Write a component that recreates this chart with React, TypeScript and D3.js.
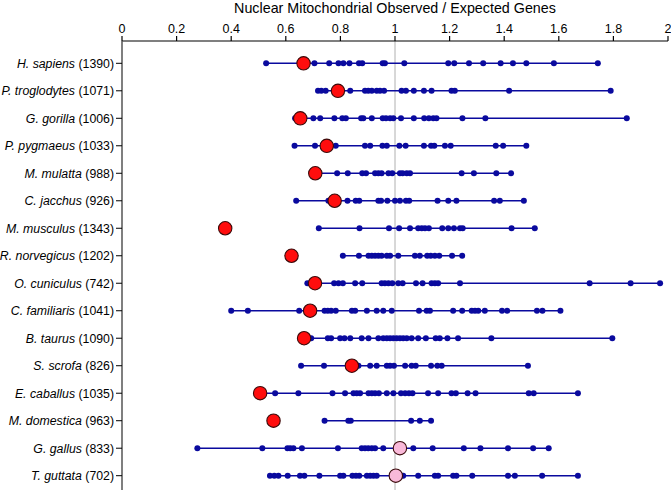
import React from "react";
import * as d3 from "d3";

const species = [
  "H. sapiens", "P. troglodytes", "G. gorilla", "P. pygmaeus", "M. mulatta", "C. jacchus",
  "M. musculus", "R. norvegicus", "O. cuniculus", "C. familiaris", "B. taurus", "S. scrofa",
  "E. caballus", "M. domestica", "G. gallus", "T. guttata",
];
const counts = [1390, 1071, 1006, 1033, 988, 926, 1343, 1202, 742, 1041, 1090, 826, 1035, 963, 833, 702];

// highlighted (large) marker value per species
const markerValues = [0.665, 0.791, 0.653, 0.750, 0.708, 0.779, 0.378, 0.621, 0.707, 0.689, 0.667, 0.842, 0.506, 0.555, 1.018, 1.003];
// pink markers for birds, red for mammals
const markerPink = [false, false, false, false, false, false, false, false, false, false, false, false, false, false, true, true];

const hSapiens = [0.528, 0.705, 0.759, 0.793, 0.811, 0.833, 0.868, 0.880, 0.955, 0.963, 1.034, 1.195, 1.217, 1.271, 1.323, 1.387, 1.432, 1.481, 1.582, 1.743];
const pTroglodytes = [0.718, 0.730, 0.746, 0.836, 0.890, 0.902, 0.915, 0.933, 0.945, 0.960, 1.024, 1.040, 1.069, 1.106, 1.134, 1.207, 1.219, 1.418, 1.790];
const gGorilla = [0.634, 0.701, 0.726, 0.778, 0.807, 0.820, 0.876, 0.884, 0.915, 0.955, 0.967, 0.982, 0.994, 1.022, 1.069, 1.107, 1.124, 1.140, 1.152, 1.247, 1.331, 1.849];
const pPygmaeus = [0.632, 0.707, 0.783, 0.890, 0.909, 0.954, 0.970, 1.016, 1.039, 1.106, 1.132, 1.144, 1.183, 1.204, 1.369, 1.396, 1.481];
const mMulatta = [0.700, 0.788, 0.827, 0.880, 0.894, 0.927, 0.939, 0.951, 0.976, 0.990, 1.018, 1.028, 1.043, 1.055, 1.244, 1.289, 1.371, 1.425];
const cJacchus = [0.638, 0.756, 0.826, 0.856, 0.869, 0.939, 0.949, 0.972, 1.000, 1.018, 1.040, 1.052, 1.156, 1.195, 1.225, 1.363, 1.384, 1.472];
const mMusculus = [0.721, 0.870, 0.978, 1.015, 1.055, 1.085, 1.098, 1.110, 1.124, 1.173, 1.195, 1.216, 1.238, 1.248, 1.427, 1.512];
const rNorvegicus = [0.809, 0.868, 0.903, 0.915, 0.927, 0.939, 0.951, 0.970, 0.982, 1.012, 1.073, 1.091, 1.118, 1.131, 1.146, 1.162, 1.209, 1.246];
const oCuniculus = [0.679, 0.777, 0.793, 0.809, 0.854, 0.880, 0.951, 0.963, 0.976, 0.990, 1.012, 1.028, 1.077, 1.101, 1.134, 1.146, 1.158, 1.238, 1.713, 1.863, 1.971];
const cFamiliaris = [0.400, 0.461, 0.649, 0.742, 0.754, 0.766, 0.783, 0.842, 0.854, 0.897, 0.933, 0.957, 0.988, 1.088, 1.116, 1.128, 1.213, 1.246, 1.281, 1.293, 1.305, 1.329, 1.392, 1.411, 1.520, 1.540, 1.606];
const bTaurus = [0.660, 0.693, 0.754, 0.766, 0.799, 0.815, 0.836, 0.878, 0.903, 0.939, 0.957, 0.970, 0.982, 0.994, 1.006, 1.018, 1.030, 1.043, 1.061, 1.085, 1.113, 1.149, 1.164, 1.192, 1.231, 1.353, 1.796];
const sScrofa = [0.656, 0.740, 0.866, 0.909, 0.933, 0.970, 0.982, 0.996, 1.037, 1.061, 1.076, 1.132, 1.155, 1.171, 1.487];
const eCaballus = [0.510, 0.561, 0.646, 0.771, 0.817, 0.848, 0.860, 0.872, 0.903, 0.915, 0.927, 0.941, 0.970, 0.994, 1.022, 1.037, 1.051, 1.064, 1.121, 1.158, 1.207, 1.223, 1.266, 1.295, 1.490, 1.508, 1.670];
const mDomestica = [0.742, 0.829, 0.838, 1.059, 1.091, 1.132];
const gGallus = [0.276, 0.514, 0.606, 0.616, 0.628, 0.659, 0.791, 0.878, 0.890, 0.902, 0.915, 0.927, 0.957, 1.067, 1.138, 1.252, 1.313, 1.414, 1.506, 1.563];
const tGuttata = [0.542, 0.558, 0.573, 0.607, 0.652, 0.668, 0.723, 0.799, 0.811, 0.844, 0.857, 0.869, 0.897, 0.909, 0.921, 0.933, 1.030, 1.085, 1.146, 1.158, 1.213, 1.225, 1.283, 1.414, 1.439, 1.539, 1.670];

const dotSeries = [hSapiens, pTroglodytes, gGorilla, pPygmaeus, mMulatta, cJacchus, mMusculus, rNorvegicus, oCuniculus, cFamiliaris, bTaurus, sScrofa, eCaballus, mDomestica, gGallus, tGuttata];

const xTicks = [0, 0.2, 0.4, 0.6, 0.8, 1, 1.2, 1.4, 1.6, 1.8, 2];
const title = "Nuclear Mitochondrial Observed / Expected Genes";

const W = 671;
const H = 490;
const FONT = "'Liberation Sans', Arial, sans-serif";
const BLUE = "#0a0a9e";

export default function App() {
  const x = d3.scaleLinear().domain([0, 2]).range([122, 668]);
  const y = d3.scalePoint<string>().domain(species).range([63.3, 475.7]).padding(0);
  const axisY = 41;

  return (
    <svg width={W} height={H} style={{ position: "absolute", left: 0, top: 0, background: "#fff" }}>
      <text x={x(1)} y={13} textAnchor="middle" fontFamily={FONT} fontSize={14.3} fill="#000">{title}</text>
      {/* reference line at 1 */}
      <line x1={x(1)} x2={x(1)} y1={axisY} y2={H} stroke="#b0b0b0" strokeWidth={1} />
      {/* top axis */}
      <line x1={x(0)} x2={x(2)} y1={axisY} y2={axisY} stroke="#000" strokeWidth={1.2} />
      {xTicks.map((t) => (
        <g key={t}>
          <line x1={x(t)} x2={x(t)} y1={axisY} y2={axisY - 5} stroke="#000" strokeWidth={1.2} />
          <text x={x(t)} y={axisY - 8} textAnchor="middle" fontFamily={FONT} fontSize={12.5} fill="#000">{d3.format("~g")(t)}</text>
        </g>
      ))}
      {/* left axis */}
      <line x1={x(0)} x2={x(0)} y1={axisY} y2={H} stroke="#555" strokeWidth={1.5} />
      {species.map((s, i) => {
        const yy = y(s) as number;
        return (
          <g key={s}>
            <line x1={x(0) - 6} x2={x(0)} y1={yy} y2={yy} stroke="#000" strokeWidth={1} />
            <text x={x(0) - 8} y={yy} dy="0.35em" textAnchor="end" fontFamily={FONT} fontSize={12.3} fill="#000">
              <tspan fontStyle="italic">{s}</tspan>
              <tspan>{` (${counts[i]})`}</tspan>
            </text>
          </g>
        );
      })}
      {species.map((s, i) => {
        const yy = y(s) as number;
        const vals = dotSeries[i];
        const [lo, hi] = d3.extent(vals) as [number, number];
        return (
          <g key={s + "-d"}>
            <line x1={x(lo)} x2={x(hi)} y1={yy} y2={yy} stroke={BLUE} strokeWidth={1.6} />
            {vals.map((v, j) => (
              <circle key={j} cx={x(v)} cy={yy} r={3} fill={BLUE} />
            ))}
            <circle cx={x(markerValues[i])} cy={yy} r={6.7}
              fill={markerPink[i] ? "#f9b9d9" : "#ff0d0d"} stroke="#3a0a0a" strokeWidth={1.1} />
          </g>
        );
      })}
    </svg>
  );
}
